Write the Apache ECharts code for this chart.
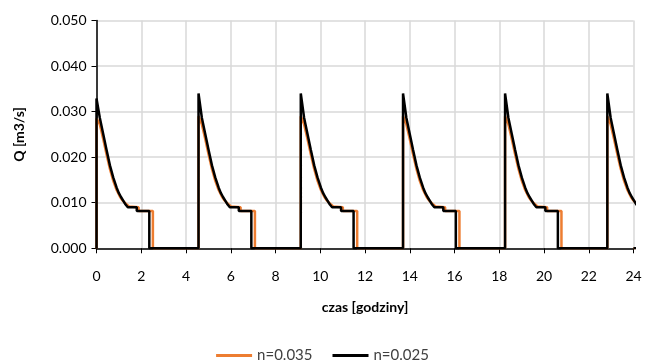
<!DOCTYPE html>
<html>
<head>
<meta charset="utf-8">
<script src="https://cdn.jsdelivr.net/npm/echarts@6/dist/echarts.min.js"></script>
<style>
  html, body { margin: 0; padding: 0; background: #fff; }
  #chart { width: 645px; height: 362px; }
</style>
</head>
<body>
<div id="chart"></div>
<script>
// hours at which each outflow pulse starts
const pulseStarts = [0, 4.56, 9.13, 13.7, 18.26, 22.83];

// n=0.035 (orange) – peak per pulse, then shared decay profile (hours after pulse start)
const orangePeaks = [0.0285, 0.029, 0.029, 0.029, 0.029, 0.029];
const orangeOffsets = [0, 0.15, 0.3, 0.45, 0.6, 0.75, 0.9, 1.05, 1.15, 1.25, 1.35, 1.45, 1.5, 1.88, 1.88, 2.52, 2.52];
const orangeValues = [null, 0.0272, 0.0240, 0.0206, 0.0174, 0.0148, 0.0128, 0.0113, 0.0106, 0.0101, 0.0096, 0.0092, 0.0090, 0.0090, 0.0082, 0.0082, 0];

// n=0.025 (black)
const blackPeaks = [0.0329, 0.034, 0.034, 0.034, 0.034, 0.034];
const blackOffsets = [0, 0.15, 0.3, 0.45, 0.6, 0.75, 0.9, 1.0, 1.1, 1.2, 1.3, 1.4, 1.8, 1.8, 2.36, 2.36];
const blackValues = [null, 0.0286, 0.0251, 0.0216, 0.0182, 0.0155, 0.0133, 0.0121, 0.0112, 0.0104, 0.0096, 0.0090, 0.0090, 0.0082, 0.0082, 0];

const xTicks = [0, 2, 4, 6, 8, 10, 12, 14, 16, 18, 20, 22, 24];
const yTicks = [0, 0.01, 0.02, 0.03, 0.04, 0.05];

function buildSeries(peaks, offsets, values) {
  const pts = [];
  pulseStarts.forEach((t0, i) => {
    pts.push([t0, 0]);
    offsets.forEach((dt, j) => {
      pts.push([t0 + dt, j === 0 ? peaks[i] : values[j]]);
    });
  });
  pts.push([24, 0]);
  return pts;
}

const chart = echarts.init(document.getElementById('chart'));
const font = 'Lato, "Open Sans", sans-serif';

const option = {
  animation: false,
  backgroundColor: '#fff',
  grid: { left: 96.5, right: 11.5, top: 20.5, bottom: 113.7 },
  legend: {
    top: 343,
    left: 'center',
    itemWidth: 36,
    itemHeight: 3,
    itemGap: 20,
    icon: 'rect',
    textStyle: { fontFamily: font, fontSize: 15, color: '#404040' },
    data: ['n=0.035', 'n=0.025'],
  },
  xAxis: {
    type: 'value',
    min: xTicks[0],
    max: xTicks[xTicks.length - 1],
    interval: 2,
    name: 'czas [godziny]',
    nameLocation: 'middle',
    nameGap: 52,
    nameTextStyle: { fontFamily: font, fontSize: 14, fontWeight: 'bold', color: '#000' },
    axisLine: { lineStyle: { color: '#000', width: 1.5 } },
    axisTick: { show: true, length: 5, lineStyle: { color: '#000' } },
    axisLabel: { fontFamily: font, fontSize: 14, color: '#000', margin: 21 },
    splitLine: { show: true, lineStyle: { color: '#d9d9d9', width: 1.5 } },
  },
  yAxis: {
    type: 'value',
    min: yTicks[0],
    max: yTicks[yTicks.length - 1],
    interval: 0.01,
    name: 'Q [m3/s]',
    nameLocation: 'middle',
    nameGap: 70,
    nameTextStyle: { fontFamily: font, fontSize: 14, fontWeight: 'bold', color: '#000' },
    axisLine: { show: true, lineStyle: { color: '#000', width: 1.5 } },
    axisTick: { show: true, length: 5, lineStyle: { color: '#000' } },
    axisLabel: {
      fontFamily: font, fontSize: 14, color: '#000', margin: 10,
      formatter: (v) => v.toFixed(3),
    },
    splitLine: { show: true, lineStyle: { color: '#d9d9d9', width: 1.5 } },
  },
  series: [
    {
      name: 'n=0.035',
      type: 'line',
      showSymbol: false,
      color: '#ED7D31',
      lineStyle: { width: 2.5, color: '#ED7D31' },
      data: buildSeries(orangePeaks, orangeOffsets, orangeValues),
    },
    {
      name: 'n=0.025',
      type: 'line',
      showSymbol: false,
      color: '#000',
      lineStyle: { width: 2.5, color: '#000' },
      data: buildSeries(blackPeaks, blackOffsets, blackValues),
    },
  ],
};

chart.setOption(option);
</script>
</body>
</html>
